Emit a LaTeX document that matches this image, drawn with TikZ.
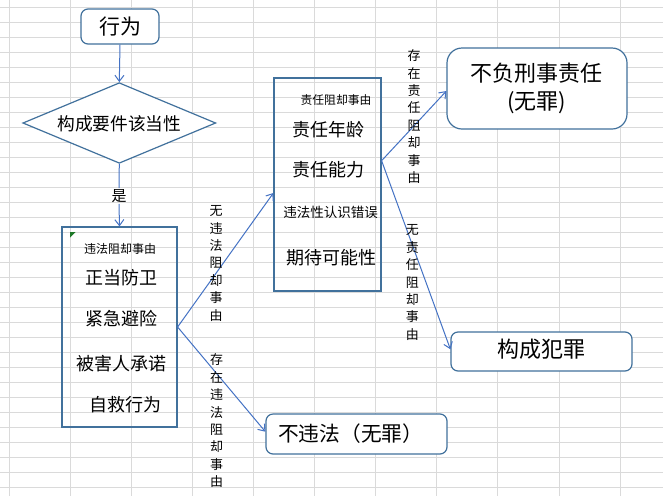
\documentclass[tikz,border=0pt]{standalone}
\usepackage{fontspec}
\newfontfamily\cjk{Noto Sans CJK SC}
\usetikzlibrary{shapes.geometric,arrows.meta}
\newcommand\cjkfs[1]{\cjk\fontsize{#1}{#1}\selectfont}
\definecolor{gridgray}{RGB}{218,218,218}
\definecolor{boxblue}{HTML}{41719C}
\definecolor{lineblue}{HTML}{4472C4}
\definecolor{markgreen}{RGB}{30,120,40}
\tikzset{
  gridline/.style={draw=gridgray, line width=0.8pt},
  frame/.style={draw=boxblue, line width=1.2pt, inner sep=0pt},
  rbox/.style={frame, fill=white, rounded corners=7pt},
  conn/.style={draw=lineblue, line width=1pt, -{Straight Barb[length=6pt,width=9pt]}},
  plain/.style={draw=lineblue, line width=1pt},
  vlabel/.style={font={\cjk\fontsize{13}{17.4}\selectfont}, align=center, inner sep=0pt},
}
\begin{document}
\begin{tikzpicture}[x=1pt,y=-1pt]
\useasboundingbox (0,0) rectangle (663,496);
\fill[white] (0,0) rectangle (663,496);
% spreadsheet grid
\foreach \k in {0,...,10} \draw[gridline] ({9.3+61.07*\k},0) -- ({9.3+61.07*\k},496);
\foreach \k in {0,...,32} \draw[gridline] (0,{7.3+15*\k}) -- (663,{7.3+15*\k});

% top
\node[rbox, minimum width=78pt, minimum height=35pt] (act) at (120,26.5) {\cjkfs{21}行为};
\node[diamond, frame, fill=white, aspect=2.4, minimum width=193pt, minimum height=80.6pt] (cond) at (119.3,123) {};
\node (condt) at (119.3,123.3) {\cjkfs{17.7}构成要件该当性};
\node[inner sep=1pt] (shi) at (119,196) {\cjkfs{15}是};

% box 1
\node[frame, minimum width=115pt, minimum height=200pt] (b1) at (119.5,327) {};
\fill[markgreen] (70,232) -- (75.5,232) -- (70,237.5) -- cycle;
\node (b1h) at (120,249.3) {\cjkfs{12}违法阻却事由};
\node (b1a) at (121.7,278) {\cjkfs{18}正当防卫};
\node (b1b) at (121.7,318.3) {\cjkfs{18}紧急避险};
\node (b1c) at (121.7,363.3) {\cjkfs{18}被害人承诺};
\node (b1d) at (125,405) {\cjkfs{18}自救行为};

% box 2
\node[frame, minimum width=107pt, minimum height=213pt] (b2) at (327.5,184.5) {};
\node (b2h) at (336,100) {\cjkfs{11.8}责任阻却事由};
\node (b2a) at (328,129.3) {\cjkfs{18}责任年龄};
\node (b2b) at (328,170) {\cjkfs{18}责任能力};
\node (b2c) at (330.7,212.7) {\cjkfs{13.5}违法性认识错误};
\node (b2d) at (331,257.3) {\cjkfs{18}期待可能性};

% result boxes
\node[rbox, rounded corners=15pt, minimum width=180pt, minimum height=81pt] (nofu) at (537,88.5) {};
\node (nofu1) at (536.7,73.3) {\cjkfs{22}不负刑事责任};
\node (nofu2) at (536.5,102.7) {\cjkfs{22}(无罪)};
\node[rbox, minimum width=181pt, minimum height=39pt] (crime) at (541.5,351.5) {};
\node (crimet) at (541.7,349.3) {\cjkfs{22}构成犯罪};
\node[rbox, minimum width=181pt, minimum height=40pt] (legal) at (356.5,434) {};
\node (legalt) at (350.7,433.3) {\cjkfs{20.7}不违法（无罪）};

% connectors
\draw[conn] (act.south) -- (cond.north);
\draw[plain] (cond.south) -- (shi.north);
\draw[conn] (shi.south) -- (b1.north);
\draw[conn] (b1.east) -- ([yshift=-8.5pt]b2.west);
\draw[conn] (b1.east) -- ([yshift=2.3pt]legal.west);
\draw[conn] ([yshift=23.8pt]b2.east) -- ([yshift=-2.5pt]nofu.west);
\draw[conn] ([yshift=23.8pt]b2.east) -- ([yshift=2.2pt]crime.west);

% vertical labels
\node[vlabel] (l1) at (216,263.3) {无\\违\\法\\阻\\却\\事\\由};
\node[vlabel] (l2) at (216.7,420.8) {存\\在\\违\\法\\阻\\却\\事\\由};
\node[vlabel] (l3) at (414,116.7) {存\\在\\责\\任\\阻\\却\\事\\由};
\node[vlabel] (l4) at (412.3,282.5) {无\\责\\任\\阻\\却\\事\\由};
\end{tikzpicture}
\end{document}
